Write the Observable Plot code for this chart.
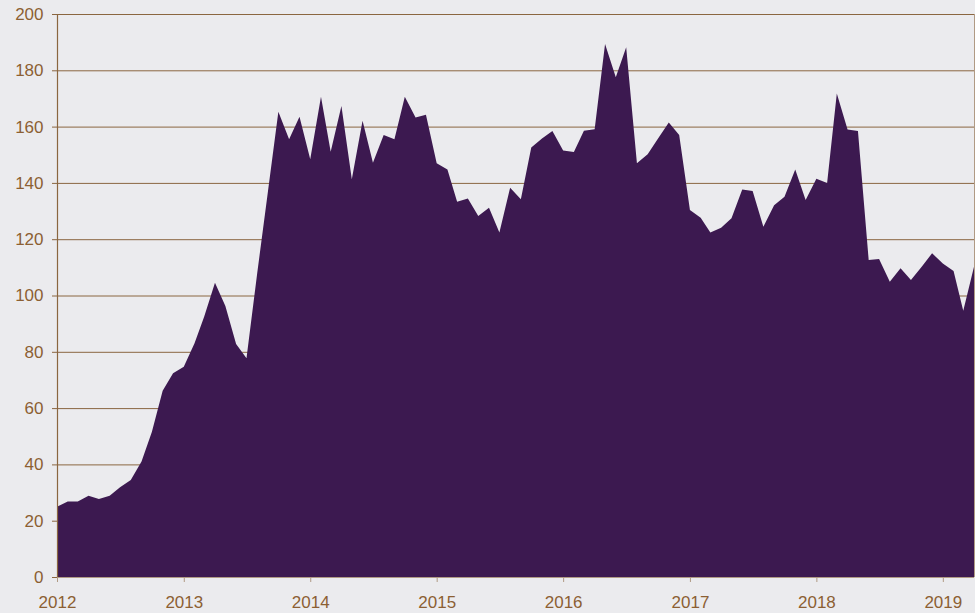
<!DOCTYPE html>
<html>
<head>
<meta charset="utf-8">
<script src="https://cdn.jsdelivr.net/npm/d3@7"></script>
<script src="https://cdn.jsdelivr.net/npm/@observablehq/plot@0.6"></script>
<style>
  html, body { margin: 0; padding: 0; background: #ebebee; }
</style>
</head>
<body>
<div id="chart"></div>
<script>
// Monthly series, January 2012 to April 2019
const firstMonth = "2012-01-01";
const lastMonth = "2019-04-01";
const values = [
  // 2012
  25, 26.8, 26.8, 28.9, 27.7, 28.9, 31.9, 34.5, 41, 51.6, 66.2, 72.4,
  // 2013
  74.7, 83, 92.5, 104.5, 96.3, 82.8, 77.7, 108, 137, 165.3, 155.5, 163.5,
  // 2014
  148.4, 170.6, 151.1, 167.3, 141.3, 162.1, 147.2, 157, 155.5, 170.6, 163.2, 164.2,
  // 2015
  147, 144.8, 133.3, 134.5, 128.2, 131.2, 122.4, 138.3, 134.2, 152.6, 155.8, 158.4,
  // 2016
  151.5, 151, 158.5, 159.1, 189.3, 177.5, 188.2, 147, 150.2, 155.8, 161.5, 157,
  // 2017
  130.4, 127.6, 122.4, 124.1, 127.4, 137.7, 137.1, 124.4, 132.1, 135.1, 144.8, 133.9,
  // 2018
  141.5, 140, 171.8, 159, 158.4, 112.6, 113, 104.9, 109.7, 105.5, 110.2, 115,
  // 2019
  111.4, 108.7, 94.6, 110.2
];
const yTicks = [0, 20, 40, 60, 80, 100, 120, 140, 160, 180, 200];
const xTickYears = ["2012", "2013", "2014", "2015", "2016", "2017", "2018", "2019"];

const months = d3.utcMonth.range(new Date(firstMonth), d3.utcMonth.offset(new Date(lastMonth), 1));
const data = months.map((d, i) => ({date: d, value: values[i]}));
const xTicks = xTickYears.map(y => new Date(y + "-01-01"));

const brown = "#8a6640";
const textBrown = "#8c5f33";
const lightBrown = "#b09a84";

const chart = Plot.plot({
  width: 975,
  height: 613,
  marginLeft: 57,
  marginRight: 1,
  marginTop: 14,
  marginBottom: 36,
  style: {
    background: "#ebebee",
    fontFamily: "'Liberation Sans', Arial, Helvetica, sans-serif",
    fontSize: "17px"
  },
  x: {type: "utc", domain: [new Date(firstMonth), new Date(lastMonth)]},
  y: {domain: [0, 200]},
  marks: [
    Plot.gridY(yTicks.filter(d => d > 0), {stroke: brown, strokeOpacity: 1, strokeWidth: 1}),
    Plot.areaY(data, {x: "date", y: "value", fill: "#3c1950"}),
    Plot.ruleY([0], {stroke: lightBrown, strokeWidth: 1}),
    Plot.ruleX([new Date(firstMonth)], {stroke: brown, strokeWidth: 1.2}),
    Plot.ruleX([new Date(lastMonth)], {stroke: lightBrown, strokeWidth: 1}),
    Plot.axisY(yTicks, {
      tickSize: 5, tickPadding: 9, stroke: brown, fill: textBrown,
      fontSize: 17, label: null
    }),
    Plot.axisX(xTicks, {
      tickSize: 5, tickPadding: 13, stroke: lightBrown, fill: textBrown,
      fontSize: 17, label: null, tickFormat: d3.utcFormat("%Y")
    })
  ]
});
document.getElementById("chart").append(chart);
</script>
</body>
</html>
